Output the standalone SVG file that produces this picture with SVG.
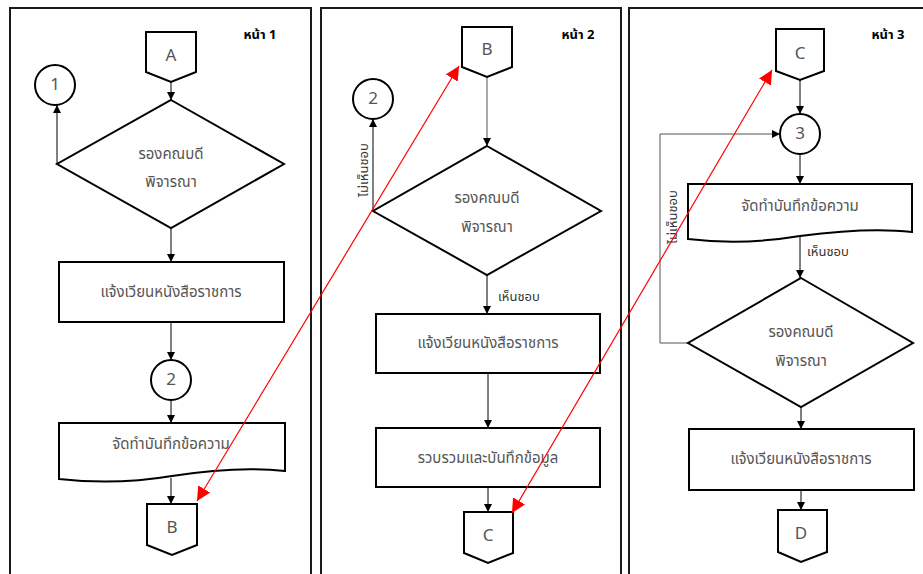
<svg xmlns="http://www.w3.org/2000/svg" width="923" height="574" viewBox="0 0 923 574">
<style>
.frame{fill:none;stroke:#1a1a1a;stroke-width:2}
.shape{fill:#fff;stroke:#000;stroke-width:2}
.conn{fill:none;stroke:#000;stroke-width:1}
.gconn{fill:none;stroke:#555;stroke-width:1}
.red{fill:none;stroke:#ff0000;stroke-width:1.2}
.t{font-family:"Noto Sans Thai","Noto Sans","DejaVu Sans",sans-serif;font-size:15px;fill:#555;text-anchor:middle;dominant-baseline:central}
.k{font-size:17px}
.lbl{font-family:"Noto Sans Thai","Noto Sans","DejaVu Sans",sans-serif;font-size:13px;fill:#333;dominant-baseline:central}
.pg{font-family:"Noto Sans Thai","Noto Sans","DejaVu Sans",sans-serif;font-size:13px;font-weight:bold;fill:#000;text-anchor:middle;dominant-baseline:central}
</style>
<defs>
<marker id="ah" viewBox="0 0 10 10" refX="10" refY="5" markerWidth="8" markerHeight="8" markerUnits="userSpaceOnUse" orient="auto"><path d="M0,0 L10,5 L0,10 Z" fill="#000"/></marker>
<marker id="rh" viewBox="0 0 10 10" refX="10" refY="5" markerWidth="14" markerHeight="14" markerUnits="userSpaceOnUse" orient="auto-start-reverse"><path d="M0,0 L10,5 L0,10 Z" fill="#ff0000"/></marker>
</defs>
<rect width="923" height="574" fill="#fff"/>
<g id="frames">
<path class="frame" d="M10,580 V8 H311 V580"/>
<path class="frame" d="M321,580 V8 H621 V580"/>
<path class="frame" d="M629,580 V8 H930"/>
</g>
<g id="page-labels">
<text class="pg" x="260" y="35">หน้า 1</text>
<text class="pg" x="578" y="35">หน้า 2</text>
<text class="pg" x="888" y="35">หน้า 3</text>
</g>
<g id="connectors">
<line class="conn" x1="171" y1="82" x2="171" y2="100" marker-end="url(#ah)"/>
<polyline class="conn" points="57,164 57,105" marker-end="url(#ah)"/>
<line class="conn" x1="171" y1="228" x2="171" y2="262" marker-end="url(#ah)"/>
<line class="conn" x1="171" y1="322" x2="171" y2="360" marker-end="url(#ah)"/>
<line class="conn" x1="171" y1="400" x2="171" y2="423" marker-end="url(#ah)"/>
<line class="conn" x1="171" y1="478" x2="171" y2="504" marker-end="url(#ah)"/>
<line class="gconn" x1="487" y1="77" x2="487" y2="146" marker-end="url(#ah)"/>
<line class="conn" x1="373" y1="211" x2="373" y2="119" marker-end="url(#ah)"/>
<line class="conn" x1="487" y1="275" x2="487" y2="314" marker-end="url(#ah)"/>
<line class="conn" x1="488" y1="373" x2="488" y2="428" marker-end="url(#ah)"/>
<line class="conn" x1="488" y1="487" x2="488" y2="512" marker-end="url(#ah)"/>
<line class="conn" x1="800" y1="80" x2="800" y2="114" marker-end="url(#ah)"/>
<line class="conn" x1="800" y1="154" x2="800" y2="184" marker-end="url(#ah)"/>
<line class="conn" x1="800" y1="236" x2="800" y2="278" marker-end="url(#ah)"/>
<polyline class="gconn" points="688,343 660,343 660,134 780,134" marker-end="url(#ah)"/>
<line class="conn" x1="801" y1="407" x2="801" y2="429" marker-end="url(#ah)"/>
<line class="conn" x1="801" y1="490" x2="801" y2="510" marker-end="url(#ah)"/>
<text class="lbl" transform="translate(364,170) rotate(-90)" text-anchor="middle">ไม่เห็นชอบ</text>
<text class="lbl" x="498" y="297">เห็นชอบ</text>
<text class="lbl" x="807" y="252">เห็นชอบ</text>
<text class="lbl" transform="translate(673,217) rotate(-90)" text-anchor="middle">ไม่เห็นชอบ</text>
</g>
<g id="p1-A"><polygon class="shape" points="146,32 196,32 196,72 171,82 146,72"/><text class="t k" x="171" y="56">A</text></g>
<g id="p1-c1"><circle class="shape" cx="55" cy="85" r="20"/><text class="t k" x="55" y="85">1</text></g>
<g id="p1-d"><polygon class="shape" points="171,100 284,164 171,228 57,164"/><text class="t" x="171" y="154">รองคณบดี</text><text class="t" x="171" y="182">พิจารณา</text></g>
<g id="p1-r"><rect class="shape" x="59" y="262" width="225" height="60"/><text class="t" x="171" y="292">แจ้งเวียนหนังสือราชการ</text></g>
<g id="p1-c2"><circle class="shape" cx="171" cy="380" r="20"/><text class="t k" x="171" y="380">2</text></g>
<g id="p1-doc"><path class="shape" d="M59,423 H285 V471 C250,467 210,470 172,476 C130,483 95,483 59,479 Z"/><text class="t" x="171" y="444">จัดทำบันทึกข้อความ</text></g>
<g id="p1-B"><polygon class="shape" points="147,504 197,504 197,545 172,555 147,545"/><text class="t k" x="172" y="528">B</text></g>

<g id="p2-B"><polygon class="shape" points="462,27 512,27 512,67 487,77 462,67"/><text class="t k" x="487" y="50">B</text></g>
<g id="p2-c2"><circle class="shape" cx="373" cy="99" r="20"/><text class="t k" x="373" y="99">2</text></g>
<g id="p2-d"><polygon class="shape" points="487,146 601,211 487,275 373,211"/><text class="t" x="487" y="198">รองคณบดี</text><text class="t" x="487" y="227">พิจารณา</text></g>
<g id="p2-r1"><rect class="shape" x="376" y="314" width="224" height="59"/><text class="t" x="488" y="343">แจ้งเวียนหนังสือราชการ</text></g>
<g id="p2-r2"><rect class="shape" x="376" y="428" width="224" height="59"/><text class="t" x="488" y="458">รวบรวมและบันทึกข้อมูล</text></g>
<g id="p2-C"><polygon class="shape" points="464,512 513,512 513,553 488,563 464,553"/><text class="t k" x="488" y="536">C</text></g>

<g id="p3-C"><polygon class="shape" points="776,29 824,29 824,71 800,80 776,71"/><text class="t k" x="800" y="54">C</text></g>
<g id="p3-c3"><circle class="shape" cx="800" cy="134" r="20"/><text class="t k" x="800" y="134">3</text></g>
<g id="p3-doc"><path class="shape" d="M688,184 H912 V232 C878,228 838,231 800,236 C758,243 722,243 688,239 Z"/><text class="t" x="800" y="206">จัดทำบันทึกข้อความ</text></g>
<g id="p3-d"><polygon class="shape" points="801,278 913,343 801,407 688,343"/><text class="t" x="801" y="332">รองคณบดี</text><text class="t" x="801" y="361">พิจารณา</text></g>
<g id="p3-r"><rect class="shape" x="689" y="429" width="225" height="61"/><text class="t" x="801" y="459">แจ้งเวียนหนังสือราชการ</text></g>
<g id="p3-D"><polygon class="shape" points="778,510 827,510 827,552 801,562 778,552"/><text class="t k" x="801" y="534">D</text></g>

<g id="page-links">
<line class="red" x1="197" y1="501" x2="459" y2="66" marker-start="url(#rh)" marker-end="url(#rh)"/>
<line class="red" x1="512" y1="513" x2="772" y2="70" marker-start="url(#rh)" marker-end="url(#rh)"/>
</g>
</svg>
